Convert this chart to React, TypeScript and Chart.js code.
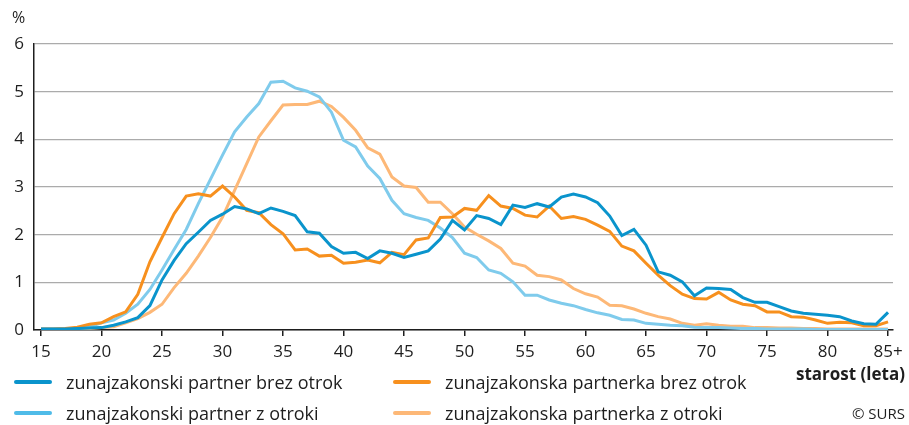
import React, { useEffect, useRef } from "react";
import { Chart, registerables } from "chart.js";

Chart.register(...registerables);

const ages: number[] = [];
for (let a = 15; a <= 85; a++) ages.push(a);

const xTicks = [15, 20, 25, 30, 35, 40, 45, 50, 55, 60, 65, 70, 75, 80, 85];
const yTicks = [0, 1, 2, 3, 4, 5, 6];

const partnerBrez = [
  0.02, 0.02, 0.02, 0.03, 0.04, 0.05, 0.1, 0.17, 0.26, 0.51,
  1.05, 1.46, 1.81, 2.05, 2.3, 2.43, 2.59, 2.54, 2.44, 2.56,
  2.49, 2.4, 2.06, 2.03, 1.75, 1.61, 1.63, 1.5, 1.66, 1.61,
  1.52, 1.59, 1.66, 1.91, 2.3, 2.1, 2.4, 2.34, 2.21, 2.62,
  2.57, 2.65, 2.58, 2.79, 2.85, 2.79, 2.67, 2.39, 1.98, 2.11,
  1.78, 1.22, 1.15, 1.01, 0.72, 0.88, 0.87, 0.85, 0.68, 0.58,
  0.58, 0.49, 0.4, 0.35, 0.33, 0.31, 0.28, 0.19, 0.13, 0.12,
  0.37,
];

const partnerkaBrez = [
  0.02, 0.02, 0.03, 0.06, 0.12, 0.15, 0.28, 0.38, 0.75, 1.43,
  1.94, 2.44, 2.81, 2.86, 2.81, 3.02, 2.79, 2.51, 2.46, 2.21,
  2.02, 1.68, 1.7, 1.55, 1.57, 1.4, 1.42, 1.47, 1.41, 1.63,
  1.58, 1.89, 1.93, 2.36, 2.37, 2.55, 2.51, 2.82, 2.6, 2.55,
  2.41, 2.37, 2.6, 2.34, 2.38, 2.32, 2.2, 2.07, 1.76, 1.66,
  1.4, 1.15, 0.93, 0.75, 0.66, 0.65, 0.79, 0.63, 0.54, 0.51,
  0.38, 0.38, 0.28, 0.27, 0.21, 0.14, 0.16, 0.15, 0.09, 0.09,
  0.17,
];

const partnerZ = [
  0.02, 0.02, 0.02, 0.04, 0.07, 0.15, 0.21, 0.35, 0.54, 0.85,
  1.26, 1.69, 2.11, 2.65, 3.16, 3.67, 4.16, 4.47, 4.75, 5.2,
  5.22, 5.08, 5.01, 4.89, 4.57, 3.98, 3.84, 3.44, 3.18, 2.72,
  2.44, 2.36, 2.3, 2.14, 1.94, 1.61, 1.52, 1.26, 1.19, 1.01,
  0.73, 0.73, 0.63, 0.56, 0.51, 0.43, 0.36, 0.31, 0.22, 0.21,
  0.14, 0.12, 0.1, 0.09, 0.06, 0.05, 0.05, 0.04, 0.03, 0.03,
  0.02, 0.02, 0.02, 0.02, 0.01, 0.01, 0.01, 0.01, 0.01, 0.01,
  0.01,
];

const partnerkaZ = [
  0.01, 0.01, 0.01, 0.02, 0.03, 0.05, 0.07, 0.15, 0.24, 0.37,
  0.54, 0.89, 1.19, 1.55, 1.94, 2.37, 2.93, 3.49, 4.05, 4.39,
  4.72, 4.73, 4.73, 4.8, 4.69, 4.46, 4.19, 3.82, 3.69, 3.21,
  3.02, 2.99, 2.68, 2.68, 2.44, 2.16, 2.01, 1.87, 1.71, 1.4,
  1.34, 1.15, 1.12, 1.05, 0.87, 0.76, 0.69, 0.52, 0.51, 0.44,
  0.35, 0.28, 0.23, 0.14, 0.1, 0.13, 0.1, 0.08, 0.08, 0.05,
  0.05, 0.04, 0.04, 0.03, 0.03, 0.02, 0.02, 0.02, 0.02, 0.02,
  0.02,
];

const seriesNames = [
  "zunajzakonski partner brez otrok",
  "zunajzakonska partnerka brez otrok",
  "zunajzakonski partner z otroki",
  "zunajzakonska partnerka z otroki",
];
const seriesColors = ["#0a94cc", "#f7901e", "#7fcbec", "#fdb877"];
const legendColors = ["#0a94cc", "#f7901e", "#4fbbe8", "#fdb877"];
const seriesData = [partnerBrez, partnerkaBrez, partnerZ, partnerkaZ];

const FONT = "'Open Sans', 'DejaVu Sans', sans-serif";
const TEXT = "#1e1e1e";

export default function App() {
  const canvasRef = useRef<HTMLCanvasElement | null>(null);

  useEffect(() => {
    if (!canvasRef.current) return;
    const chart = new Chart(canvasRef.current, {
      type: "line",
      data: {
        datasets: seriesData.map((d, i) => ({
          label: seriesNames[i],
          data: d.map((v, j) => ({ x: ages[j], y: v })),
          borderColor: seriesColors[i],
          backgroundColor: seriesColors[i],
          borderWidth: 3,
          pointRadius: 0,
          tension: 0,
          fill: false,
        })),
      },
      options: {
        animation: false,
        responsive: false,
        maintainAspectRatio: false,
        layout: { padding: { left: 0, right: 16, top: 44, bottom: 0 } },
        plugins: { legend: { display: false }, tooltip: { enabled: false } },
        scales: {
          x: {
            type: "linear",
            min: 14.42,
            max: 85.41,
            afterBuildTicks: (s: any) => {
              s.ticks = xTicks.map((v) => ({ value: v }));
            },
            afterFit: (s: any) => {
              s.height = 95;
            },
            ticks: {
              autoSkip: false,
              maxRotation: 0,
              padding: 6,
              color: TEXT,
              font: { family: FONT, size: 17 },
              callback: (v: any) => (Number(v) === 85 ? "85+" : String(v)),
            },
            grid: {
              display: true,
              drawOnChartArea: false,
              drawTicks: true,
              tickLength: 6,
              color: "#1e1e1e",
              lineWidth: 1.5,
            },
            border: { display: true, color: "#1e1e1e", width: 1.5 },
          },
          y: {
            min: 0,
            max: 6,
            afterBuildTicks: (s: any) => {
              s.ticks = yTicks.map((v) => ({ value: v }));
            },
            afterFit: (s: any) => {
              s.width = 34;
            },
            ticks: {
              padding: 10,
              color: TEXT,
              font: { family: FONT, size: 17 },
            },
            grid: {
              color: "#ababab",
              lineWidth: 1.2,
              drawTicks: false,
            },
            border: { display: true, color: "#1e1e1e", width: 1.5 },
          },
        },
      },
    });
    return () => chart.destroy();
  }, []);

  const legendItem = (i: number, left: number, top: number) => (
    <div
      key={i}
      style={{
        position: "absolute",
        left,
        top,
        display: "flex",
        alignItems: "center",
        whiteSpace: "nowrap",
      }}
    >
      <span
        style={{
          display: "inline-block",
          width: 38,
          height: 4,
          borderRadius: 2,
          background: legendColors[i],
          marginRight: 14,
        }}
      />
      <span style={{ fontSize: 18, color: TEXT }}>{seriesNames[i]}</span>
    </div>
  );

  return (
    <div
      style={{
        position: "fixed",
        left: 0,
        top: 0,
        width: 909,
        height: 425,
        background: "#fff",
        fontFamily: FONT,
        overflow: "hidden",
      }}
    >
      <canvas ref={canvasRef} width={909} height={425} style={{ position: "absolute", left: 0, top: 0 }} />
      <div style={{ position: "absolute", left: 12, top: 6, fontSize: 16, color: TEXT }}>%</div>
      {legendItem(0, 14, 370)}
      {legendItem(1, 393, 370)}
      {legendItem(2, 14, 401)}
      {legendItem(3, 393, 401)}
      <div
        style={{
          position: "absolute",
          right: 4,
          top: 362,
          fontSize: 17,
          fontWeight: "bold",
          color: TEXT,
        }}
      >
        starost (leta)
      </div>
      <div style={{ position: "absolute", right: 4, top: 403, fontSize: 15, color: TEXT }}>© SURS</div>
    </div>
  );
}
